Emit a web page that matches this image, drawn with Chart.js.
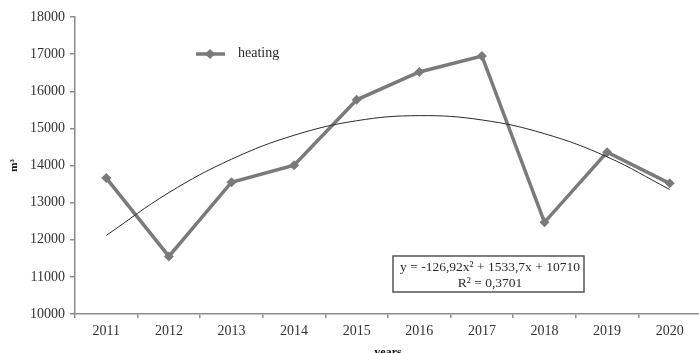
<!DOCTYPE html>
<html lang="en">
<head>
    <meta charset="UTF-8">
    <title>Heating</title>
    <script src="https://cdn.jsdelivr.net/npm/chart.js"></script>
    <style>
        body {
            margin: 0;
            padding: 0;
            background: #fff;
        }

        /* the original picture is cropped on the right and bottom */
        .frame {
            width: 699px;
            height: 353px;
            overflow: hidden;
            position: relative;
        }
    </style>
</head>
<body>

    <div class="frame">
        <canvas id="heatChart" width="706" height="362"></canvas>
    </div>

    <script>
        // Data
        const years = ["2011", "2012", "2013", "2014", "2015", "2016", "2017", "2018", "2019", "2020"];
        const heating = [13660, 11550, 13550, 14010, 15770, 16520, 16950, 12470, 14360, 13520];
        // polynomial trend as printed on the chart (values at x = 1..10)
        const trend = [12117, 13270, 14169, 14814, 15206, 15343, 15227, 14857, 14233, 13355];
        const equation = ["y = -126,92x\u00B2 + 1533,7x + 10710", "R\u00B2 = 0,3701"];

        const serif = "'Liberation Serif', 'DejaVu Serif', serif";
        const grey = "#7a7a7a";
        const axisGrey = "#8c8c8c";

        // Legend inside the plot + equation box
        const overlays = {
            id: "overlays",
            afterDraw(chart) {
                const c = chart.ctx;
                c.save();

                // legend
                c.strokeStyle = grey;
                c.lineWidth = 3.5;
                c.beginPath();
                c.moveTo(196, 54);
                c.lineTo(225, 54);
                c.stroke();
                c.fillStyle = grey;
                c.beginPath();
                c.moveTo(210, 49);
                c.lineTo(215, 54);
                c.lineTo(210, 59);
                c.lineTo(205, 54);
                c.closePath();
                c.fill();
                c.fillStyle = "#2a2a2a";
                c.font = "14px " + serif;
                c.textAlign = "left";
                c.textBaseline = "middle";
                c.fillText("heating", 238, 53);

                // equation box
                c.fillStyle = "#fff";
                c.fillRect(393, 256, 191, 36);
                c.strokeStyle = "#555";
                c.lineWidth = 1.5;
                c.strokeRect(393, 256, 191, 36);
                c.fillStyle = "#2a2a2a";
                c.font = "13.5px " + serif;
                c.textAlign = "center";
                c.fillText(equation[0], 490, 267);
                c.fillText(equation[1], 490, 283);

                c.restore();
            }
        };

        const ctx = document.getElementById("heatChart").getContext("2d");
        new Chart(ctx, {
            type: "line",
            data: {
                labels: years,
                datasets: [
                    {
                        label: "trend",
                        data: trend,
                        borderColor: "#2a2a2a",
                        borderWidth: 1,
                        pointRadius: 0,
                        tension: 0.4,
                        fill: false
                    },
                    {
                        label: "heating",
                        data: heating,
                        borderColor: grey,
                        backgroundColor: grey,
                        borderWidth: 3.5,
                        pointStyle: "rectRot",
                        pointRadius: 5,
                        pointBorderWidth: 0,
                        tension: 0,
                        fill: false
                    }
                ]
            },
            plugins: [overlays],
            options: {
                responsive: false,
                animation: false,
                devicePixelRatio: 1,
                layout: { padding: { top: 17, right: 1, bottom: 0, left: 0 } },
                plugins: {
                    legend: { display: false },
                    tooltip: { enabled: false }
                },
                scales: {
                    x: {
                        offset: true,
                        grid: {
                            offset: true,
                            drawOnChartArea: false,
                            color: axisGrey,
                            tickLength: 4,
                            lineWidth: 1.5
                        },
                        border: { color: axisGrey, width: 1.5 },
                        ticks: {
                            color: "#333",
                            font: { family: serif, size: 14 },
                            padding: 5,
                            maxRotation: 0
                        },
                        title: {
                            display: true,
                            text: "years",
                            color: "#111",
                            font: { family: serif, size: 12, weight: "bold" },
                            padding: { top: 0, bottom: 2 }
                        },
                        afterFit(scale) { scale.height = 48; }
                    },
                    y: {
                        min: 10000,
                        max: 18000,
                        grid: {
                            drawOnChartArea: false,
                            color: axisGrey,
                            tickLength: 5,
                            lineWidth: 1.5
                        },
                        border: { color: axisGrey, width: 1.5 },
                        ticks: {
                            stepSize: 1000,
                            color: "#333",
                            font: { family: serif, size: 14 },
                            padding: 5,
                            callback: v => String(v)
                        },
                        title: {
                            display: true,
                            text: "m\u00B3",
                            color: "#111",
                            font: { family: serif, size: 11, weight: "bold" },
                            padding: { top: 8, bottom: 0 }
                        },
                        afterFit(scale) { scale.width = 75; }
                    }
                }
            }
        });
    </script>
</body>
</html>
